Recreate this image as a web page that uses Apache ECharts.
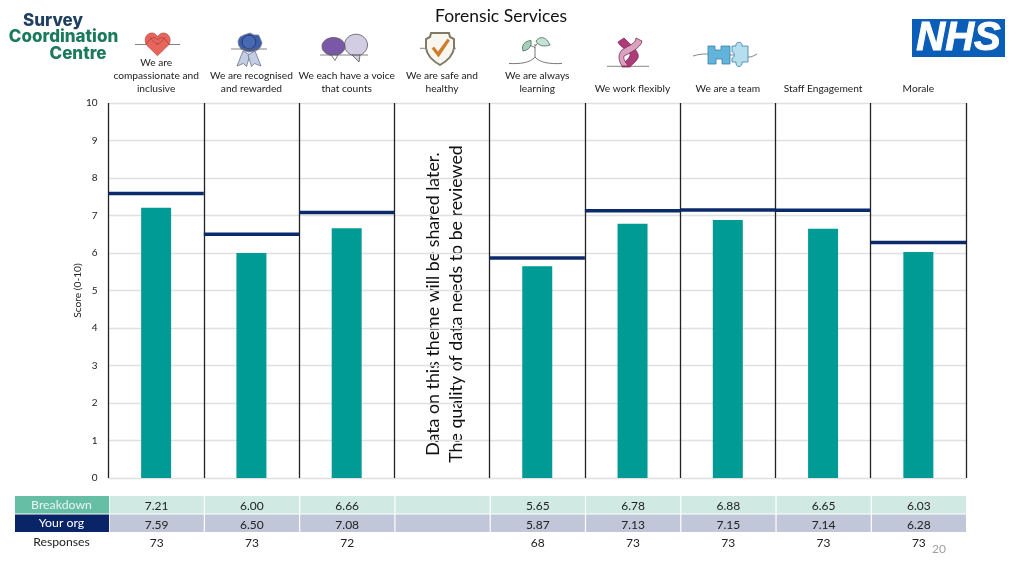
<!DOCTYPE html>
<html><head><meta charset="utf-8">
<style>html,body{margin:0;padding:0;background:#fff}#c{width:1024px;height:576px}</style>
<script src="https://cdn.jsdelivr.net/npm/echarts@6/dist/echarts.min.js"></script>
</head><body><div id="c"></div>
<script>
const categories = ['We are\ncompassionate and\ninclusive','We are recognised\nand rewarded','We each have a voice\nthat counts','We are safe and\nhealthy','We are always\nlearning','We work flexibly','We are a team','Staff Engagement','Morale'];
const breakdown = [7.21,6.00,6.66,null,5.65,6.78,6.88,6.65,6.03];
const yourOrg = [7.59,6.50,7.08,null,5.87,7.13,7.15,7.14,6.28];
const responses = [73,73,72,null,68,73,73,73,73];
const FONT = 'Lato, "Open Sans", sans-serif';
const GL = 108.5, GR = 966, GT = 103, GB = 478, CW = (GR-GL)/9;

const g = [], ic = [];
function rect(x,y,w,h,fill){g.push({type:'rect',silent:true,shape:{x,y,width:w,height:h},style:{fill}});}
function text(x,y,t,size,fill){g.push({type:'text',silent:true,x,y,style:{text:t,font:size+'px '+FONT,fill,textAlign:'center',textVerticalAlign:'middle'}});}
// Table
const R1=496,R2=514.5,RH=17.5;
rect(15,R1,94,RH,'#66BFA5'); rect(15,R2,94,RH,'#0A2468');
text(61.5,R1+9,'Breakdown',12.3,'#E6F5EF'); text(61.5,R2+9,'Your org',12.3,'#FFFFFF'); text(61.5,542,'Responses',12.2,'#222');
categories.forEach((c,i)=>{
  const x=GL+CW*i+1.2, w=CW-1.2, cx=GL+CW*(i+.5)+.5;
  rect(x,R1,w,RH,'#D0EAE3'); rect(x,R2,w,RH,'#C1C6D9');
  if(breakdown[i]!=null){
    text(cx,R1+10.5,breakdown[i].toFixed(2),12,'#222');
    text(cx,R2+10.5,yourOrg[i].toFixed(2),12,'#222');
    text(cx,543,String(responses[i]),12,'#222');
  }
});
text(939,549.5,'20',12,'#A0A0A0');
// Rotated note
g.push({type:'text',silent:true,x:445,y:304,rotation:Math.PI/2,style:{text:'Data on this theme will be shared later.\nThe quality of data needs to be reviewed',font:'17.8px '+FONT,fill:'#111',textAlign:'center',textVerticalAlign:'middle',lineHeight:23}});
// Logo
function logo(x,y,t,c){g.push({type:'text',silent:true,x,y,style:{text:t,font:'800 17px Inter, '+FONT,fill:c,textAlign:'center',textVerticalAlign:'middle'}});}
logo(53,20.5,'Survey','#1F3F5F');logo(63.5,37,'Coordination','#1A7A5A');logo(78,53.5,'Centre','#1A7A5A');
// NHS
rect(912,19,93,38,'#0A5EB8');
g.push({type:'text',silent:true,x:958.5,y:38.5,style:{text:'NHS',font:'italic bold 40px "Liberation Sans", Arial, sans-serif',fill:'#fff',stroke:'#fff',lineWidth:1,textAlign:'center',textVerticalAlign:'middle'}});
// Icons
function path(d,fill,stroke,lw){ic.push({type:'path',shape:{pathData:d},style:{fill:fill||'none',stroke:stroke||'none',lineWidth:lw||0.8}});}
function ell(cx,cy,rx,ry,fill,stroke,lw){ic.push({type:'ellipse',shape:{cx,cy,rx,ry},style:{fill,stroke:stroke||'#555',lineWidth:lw||0.8}});}
// heart
path('M135 44.5 L180 44.5',null,'#666');
path('M157.5 55.7 L147 45.5 C142.5 39 147 32.5 152.5 33 C155 33.2 157 35.5 157.5 37 C158.2 35.5 160.5 33 163.5 33 C168.5 33 172 39 169 44.5 Z','#E8655C','#B9544E');
path('M146 44.5 C150 37 155 36 157.5 40 C160 36 165 37 169 44.5 M150 37 C153 42 156 44 159 44 M165 37 C162 42 159 44 156 44',null,'#A8443E');
// rosette
path('M243 51 L237 66 L243.5 63.5 L246.5 66.5 L250 55 Z','#C3CDE3','#6E7488');
path('M255 51 L261 66 L254.5 63.5 L251.5 66.5 L248 55 Z','#C3CDE3','#6E7488');
path('M250 33 L254 35 L258.5 35 L260.5 39 L262 43 L260.5 47 L257.5 50 L253 51.5 L249 52 L245 51 L241 49 L238.5 45 L238 41 L240 37 L244 35 Z','#3E5FA8','#7A7F92');
ell(249,42,6.8,6.8,'#4769B4','#26386E',1);
path('M231 49 L267 49',null,'#666');
// speech
ell(356,45,11.5,10.8,'#D3CDE4','#555');
path('M352 55 L359 62 L360 55 Z','#D3CDE4','#555');
ell(333.5,46.5,11.5,9,'#7A58A8','#555');
path('M331 55 L335 60.5 L338 55 Z','#fff','#555');
path('M320 55 L368 55',null,'#666');
// shield
path('M420 48.3 L456 48.3',null,'#666');
path('M431 33 L449 33 L450 37 L454 39 L454 48 C453 56 447 61 440 65 C433 61 427 56 426 48 L426 39 L430 37 Z','#F8F6EE','#7F7A66',2);
path('M434 47 L438 52 L447.5 39 L449.5 40.5 L438.5 57 L432 48.5 Z','#D07D24','#B76B1E',0.5);
// sprout
path('M509 63.5 C520 64 530 63 535 57 C540 63 550 64 562 63.5 M535 57 L535 44 M535 48 C533 46 531 45 527 46 M535.5 46 C537 43 539 42 541 42',null,'#555');
path('M523 51 C521 45 525 41 531 40.5 C532 46 529 50 523 51 Z','#A7CFBA','#3F6A58');
path('M536 41 C540 36 546 36 550 45 C544 47 538 46 536 41 Z','#C6E2D3','#3F6A58');
// helix
path('M607 66.3 L649 66.3',null,'#666');
path('M618 42 L624 38 C632 46 640 52 638 58 C636 62 632 64 630 67 L622 67 C624 61 631 58 630 54 C628 50 620 47 618 42 Z','#AF3A78','#7A2A58');
path('M636 38 L642 41 C641 48 628 54 624 56 C623 60 626 62 628 66 L622 66 C618 60 618 54 622 50 C627 46 636 44 636 38 Z','#D9A3C0','#7A2A58');
// puzzle
path('M693 56 C705 52 715 55 735 55 C742 56 748 60 757 54',null,'#666');
path('M708 46 L715 46 L715 50 L721 50 L721 46 L730 46 L730 64 L722 64 L722 59 L716 59 L716 64 L708 64 Z','#62B4DC','#3C7FA3');
path('M732 46 L736 46 C735 41 743 41 742 46 L748 46 L748 62 L742 62 C743 68 735 68 736 62 L732 62 L732 58 C735 58 735 52 732 52 Z','#B5DEEE','#3C7FA3');

const chart = echarts.init(document.getElementById('c'),null,{renderer:'canvas'});
chart.setOption({
  animation:false,
  backgroundColor:'#fff',
  title:{text:'Forensic Services',left:496,top:2,textAlign:'center',textStyle:{fontFamily:FONT,fontSize:17.5,fontWeight:'normal',color:'#111'}},
  grid:{left:GL,right:1024-GR,top:GT,bottom:576-GB,containLabel:false},
  xAxis:{type:'category',position:'top',data:categories,boundaryGap:true,
    axisLine:{show:false},axisTick:{show:false},
    splitLine:{show:true,interval:0,lineStyle:{color:'#222',width:1.3}},
    axisLabel:{interval:0,fontFamily:FONT,fontSize:10.2,color:'#222',lineHeight:13,margin:8,verticalAlign:'bottom'}},
  yAxis:{type:'value',min:0,max:10,interval:1,name:'Score (0-10)',nameLocation:'middle',nameGap:26,nameMoveOverlap:false,
    nameTextStyle:{fontFamily:FONT,fontSize:10.2,color:'#222'},
    axisLine:{show:false},axisTick:{show:false},
    splitLine:{lineStyle:{color:'#E0E0E0',width:1.3}},
    axisLabel:{fontFamily:FONT,fontSize:10,color:'#222',margin:11}},
  series:[
    {type:'bar',data:breakdown,barWidth:30,itemStyle:{color:'#009B94'},z:2},
    {type:'custom',data:yourOrg.map((v,i)=>[i,v]),encode:{x:0,y:1},z:3,
     renderItem:(p,api)=>{
       const v=api.value(1);
       if(v==null||isNaN(v))return null;
       const c=api.coord([api.value(0),v]);const w=api.size([1,0])[0];
       return {type:'rect',shape:{x:c[0]-w/2,y:c[1]-1.75,width:w,height:3.5},style:{fill:'#0B2A6B'}};
     }},
    {type:'custom',coordinateSystem:'none',silent:true,data:[0],z:4,
     renderItem:()=>({type:'group',children:ic})}
  ],
  graphic:{elements:g}
});
</script></body></html>
